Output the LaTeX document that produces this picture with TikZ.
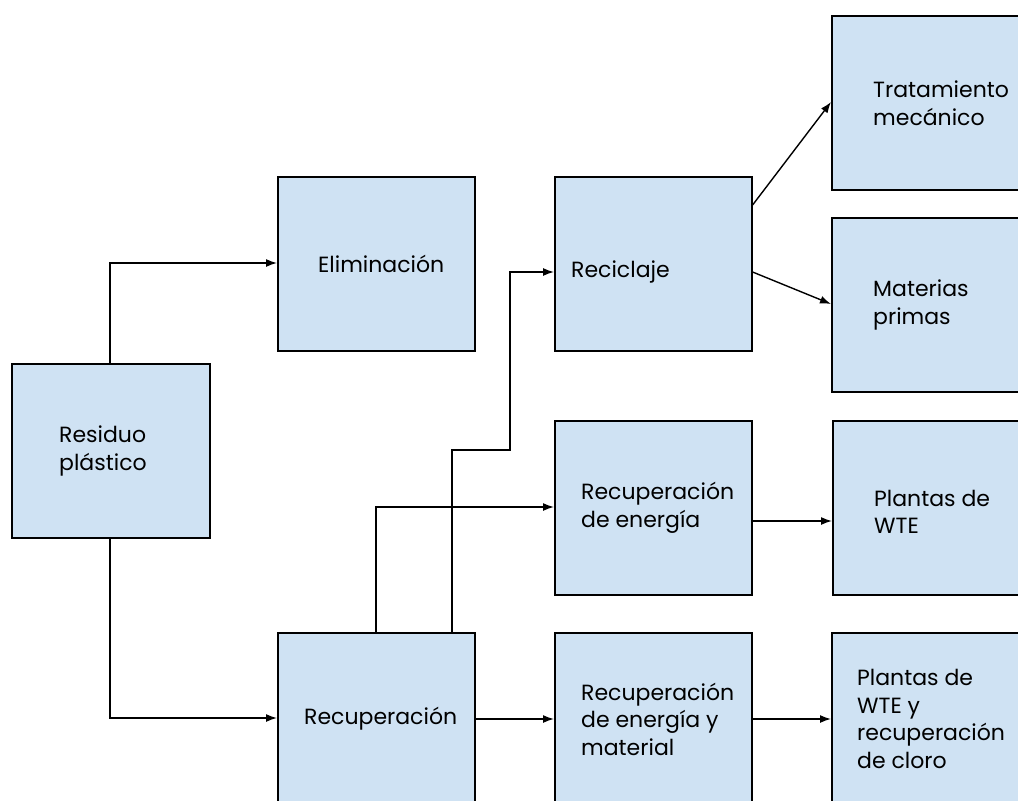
\documentclass[tikz,border=0pt]{standalone}
\usepackage{fontspec}
\setmainfont{Poppins}
\usetikzlibrary{arrows.meta}
\definecolor{boxfill}{HTML}{CFE2F3}
\begin{document}
\begin{tikzpicture}[x=1pt,y=-1pt,
  box/.style={draw=black,line width=1.6pt,fill=boxfill,rectangle,inner sep=0pt,anchor=north west},
  lbl/.style={anchor=west,align=left,inner sep=0pt,font=\fontsize{22}{27.5}\selectfont},
  conn/.style={line width=1.4pt,-{Latex[length=11pt,width=8pt]}}]
\useasboundingbox (0,0) rectangle (1018,801);
\clip (0,0) rectangle (1018,801);
\fill[white] (0,0) rectangle (1018,801);
% boxes
\node[box,minimum width=198pt,minimum height=174pt] (res) at (11,363) {};
\node[box,minimum width=197pt,minimum height=174pt] (eli) at (277,176) {};
\node[box,minimum width=197pt,minimum height=174pt] (rec) at (554,176) {};
\node[box,minimum width=200pt,minimum height=174pt] (tra) at (831,15) {};
\node[box,minimum width=200pt,minimum height=174pt] (mat) at (831,217) {};
\node[box,minimum width=197pt,minimum height=174pt] (ren) at (554,420) {};
\node[box,minimum width=200pt,minimum height=174pt] (wte) at (832,420) {};
\node[box,minimum width=197pt,minimum height=180pt] (rcp) at (277,632) {};
\node[box,minimum width=197pt,minimum height=180pt] (rem) at (554,632) {};
\node[box,minimum width=200pt,minimum height=180pt] (wtc) at (831,632) {};
% labels
\node[lbl] (tres) at (59,451) {Residuo\\plástico};
\node[lbl] (teli) at (318,264) {Eliminación};
\node[lbl] (trec) at (571,272) {Reciclaje};
\node[lbl] (ttra) at (873,103) {Tratamiento\\mecánico};
\node[lbl] (tmat) at (873,305) {Materias\\primas};
\node[lbl] (tren) at (581,508) {Recuperación\\de energía};
\node[lbl] (twte) at (874,512) {Plantas de\\WTE};
\node[lbl] (trcp) at (304,719) {Recuperación};
\node[lbl] (trem) at (581,719) {Recuperación\\de energía y\\material};
\node[lbl] (twtc) at (857,719) {Plantas de\\WTE y\\recuperación\\de cloro};
% connectors
\draw[conn] (res.north -| 110,0) |- (eli.west |- 0,263);
\draw[conn] (res.south -| 110,0) |- (rcp.west |- 0,718);
\draw[conn] (rcp.north -| 376,0) |- (ren.west |- 0,507);
\draw[conn] (rcp.north -| 452,0) -- (452,450) -- (510,450) |- (rec.west |- 0,272);
\draw[conn] (rec.east |- 0,205) -- (tra.west |- 0,102);
\draw[conn] (rec.east |- 0,272) -- (mat.west |- 0,304);
\draw[conn] (ren.east |- 0,521) -- (wte.west |- 0,521);
\draw[conn] (rcp.east |- 0,719) -- (rem.west |- 0,719);
\draw[conn] (rem.east |- 0,719) -- (wtc.west |- 0,719);
\end{tikzpicture}
\end{document}
